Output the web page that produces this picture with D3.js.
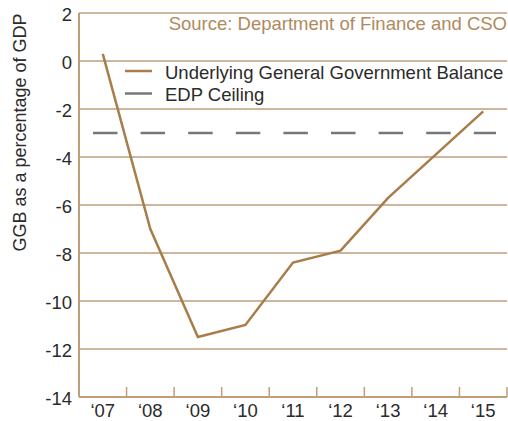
<!DOCTYPE html>
<html>
<head>
<meta charset="utf-8">
<script src="https://cdn.jsdelivr.net/npm/d3@7"></script>
<style>
  html, body { margin: 0; padding: 0; background: #fff; }
  svg { display: block; font-family: "Liberation Sans", Arial, sans-serif; }
</style>
</head>
<body>
<svg id="chart" width="508" height="421"></svg>
<script>
// Underlying general government balance, % of GDP
const years = ["‘07", "‘08", "‘09", "‘10", "‘11", "‘12", "‘13", "‘14", "‘15"];
const balance = [0.3, -7.0, -11.5, -11.0, -8.4, -7.9, -5.7, -3.9, -2.1];
const edpCeiling = -3;
const yTicks = [2, 0, -2, -4, -6, -8, -10, -12, -14];

const gold = "#a87d4a";
const grid = "#bf9e78";
const textCol = "#2b2b2b";
const grey = "#77777a";
const fs = "18.5px";

const svg = d3.select("#chart");
const m = { left: 79, right: 1, top: 13, bottom: 24 };
const W = 508, H = 421;

const x = d3.scaleBand().domain(years).range([m.left, W - m.right]).padding(0);
const y = d3.scaleLinear().domain([-14, 2]).range([H - m.bottom, m.top]);

// horizontal gridlines
svg.append("g").selectAll("line")
  .data(yTicks.filter(d => d > -14))
  .join("line")
  .attr("x1", m.left).attr("x2", W - m.right)
  .attr("y1", d => y(d)).attr("y2", d => y(d))
  .attr("stroke", grid).attr("stroke-width", 1.5);

// y axis line and labels
svg.append("line")
  .attr("x1", m.left).attr("x2", m.left)
  .attr("y1", y(2)).attr("y2", y(-14))
  .attr("stroke", grid).attr("stroke-width", 2);
svg.append("g").selectAll("text")
  .data(yTicks)
  .join("text")
  .attr("x", m.left - 7)
  .attr("y", d => y(d) + 8)
  .attr("text-anchor", "end")
  .attr("fill", textCol).style("font-size", fs)
  .text(d => d < 0 ? "-" + Math.abs(d) : d);

// x axis with inward ticks on the band boundaries
const xAxisG = svg.append("g").attr("transform", `translate(0,${y(-14)})`);
xAxisG.append("line")
  .attr("x1", m.left).attr("x2", W - m.right)
  .attr("stroke", grid).attr("stroke-width", 2);
xAxisG.selectAll("line.tick")
  .data(years.slice(1).map(d => x(d)).concat([x(years[years.length - 1]) + x.bandwidth()]))
  .join("line").attr("class", "tick")
  .attr("x1", d => d).attr("x2", d => d)
  .attr("y1", 0).attr("y2", -10)
  .attr("stroke", grid).attr("stroke-width", 1.5);
xAxisG.selectAll("text")
  .data(years)
  .join("text")
  .attr("x", d => x(d) + x.bandwidth() / 2)
  .attr("y", 20)
  .attr("text-anchor", "middle")
  .attr("fill", textCol).style("font-size", fs)
  .text(d => d);

// EDP ceiling (dashed)
svg.append("line")
  .attr("x1", x(years[0]) + 14)
  .attr("x2", x(years[years.length - 1]) + x.bandwidth() - 11)
  .attr("y1", y(edpCeiling)).attr("y2", y(edpCeiling))
  .attr("stroke", grey).attr("stroke-width", 2.5)
  .attr("stroke-dasharray", "24.5,23.1");

// balance line
const line = d3.line()
  .x((d, i) => x(years[i]) + x.bandwidth() / 2)
  .y(d => y(d));
svg.append("path")
  .datum(balance)
  .attr("d", line)
  .attr("fill", "none")
  .attr("stroke", gold).attr("stroke-width", 2.5)
  .attr("stroke-linejoin", "miter");

// source note
svg.append("text")
  .attr("x", W - 1).attr("y", 30)
  .attr("text-anchor", "end")
  .attr("fill", "#b08a5c").style("font-size", fs)
  .text("Source: Department of Finance and CSO");

// legend
const legend = [
  { label: "Underlying General Government Balance", color: gold },
  { label: "EDP Ceiling", color: grey }
];
const lg = svg.append("g");
legend.forEach((d, i) => {
  const ly = 71 + i * 22.5;
  lg.append("line")
    .attr("x1", 125).attr("x2", 152)
    .attr("y1", ly).attr("y2", ly)
    .attr("stroke", d.color).attr("stroke-width", 2.5);
  lg.append("text")
    .attr("x", 165).attr("y", ly + 7.5)
    .attr("fill", textCol).style("font-size", fs)
    .text(d.label);
});

// y axis title
svg.append("text")
  .attr("transform", `translate(26,132.5) rotate(-90)`)
  .attr("text-anchor", "middle")
  .attr("fill", textCol).style("font-size", "18px")
  .text("GGB as a percentage of GDP");
</script>
</body>
</html>
